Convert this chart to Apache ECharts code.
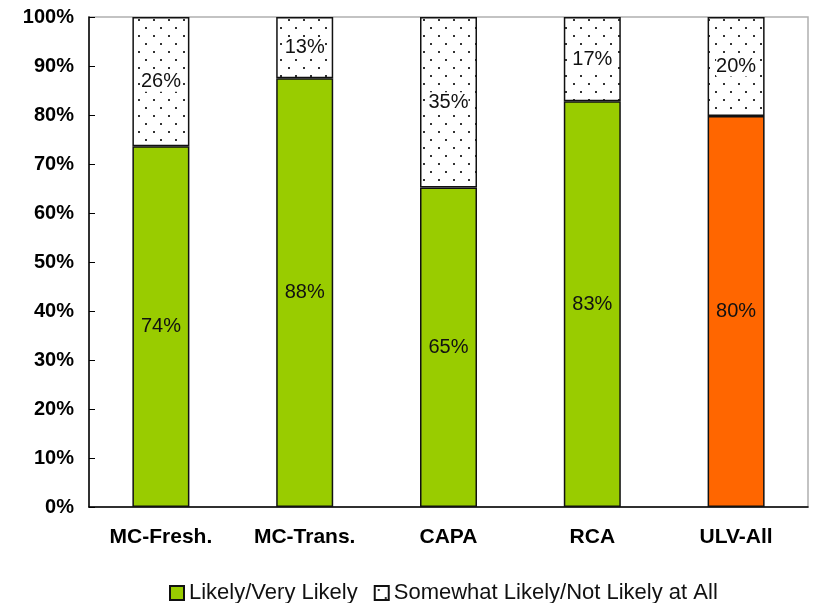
<!DOCTYPE html>
<html>
<head>
<meta charset="utf-8">
<script src="https://cdn.jsdelivr.net/npm/echarts@6/dist/echarts.min.js"></script>
<style>
  html, body { margin: 0; padding: 0; background: #fff; }
  #chart { width: 813px; height: 603px; }
</style>
</head>
<body>
<div id="chart"></div>
<script>
// data
var categories = ['MC-Fresh.', 'MC-Trans.', 'CAPA', 'RCA', 'ULV-All'];
var likely = [73.6, 87.5, 65.2, 82.8, 79.8];
var notLikely = [26.4, 12.5, 34.8, 17.2, 20.2];
var yTicks = [0, 10, 20, 30, 40, 50, 60, 70, 80, 90, 100];

// dotted fill for the top segment
function dotPattern() {
  var c = document.createElement('canvas');
  c.width = 15;
  c.height = 16;
  var ctx = c.getContext('2d');
  ctx.fillStyle = '#fff';
  ctx.fillRect(0, 0, 15, 16);
  ctx.fillStyle = '#333';
  ctx.fillRect(3, 3, 2, 2);
  ctx.fillRect(10, 11, 2, 2);
  return c;
}

var chart = echarts.init(document.getElementById('chart'));

var option = {
  animation: false,
  textStyle: { fontFamily: 'Liberation Sans, Arial, sans-serif' },
  grid: {
    left: 89, right: 5, top: 17, bottom: 96,
    show: true,
    borderColor: '#b0b0b0',
    borderWidth: 1.5
  },
  legend: {
    top: 577,
    left: 164,
    itemWidth: 14,
    itemHeight: 14,
    itemGap: 16,
    icon: 'rect',
    textStyle: { fontSize: 22, color: '#111' },
    data: ['Likely/Very Likely', 'Somewhat Likely/Not Likely at All']
  },
  xAxis: {
    type: 'category',
    data: categories,
    axisLine: { lineStyle: { color: '#000', width: 1.5 } },
    axisTick: { inside: true, length: 6, lineStyle: { color: '#000' } },
    axisLabel: {
      margin: 20,
      fontSize: 21,
      fontWeight: 'bold',
      color: '#000'
    }
  },
  yAxis: {
    type: 'value',
    min: 0,
    max: 100,
    interval: 10,
    splitLine: { show: false },
    axisLine: { show: true, lineStyle: { color: '#000', width: 1.5 } },
    axisTick: { show: true, inside: true, length: 6, lineStyle: { color: '#000' } },
    axisLabel: {
      margin: 15,
      fontSize: 20,
      fontWeight: 'bold',
      color: '#000',
      formatter: function (v) { return yTicks.indexOf(v) >= 0 ? v + '%' : ''; }
    }
  },
  series: [
    {
      name: 'Likely/Very Likely',
      type: 'bar',
      stack: 'all',
      barWidth: 57,
      data: likely.map(function (v, i) {
        return i === 4 ? { value: v, itemStyle: { color: '#ff6600' } } : v;
      }),
      itemStyle: { color: '#99cc00', borderColor: '#111', borderWidth: 1.5 },
      label: {
        show: true,
        position: 'inside',
        fontSize: 20,
        color: '#111',
        formatter: function (p) { return Math.round(p.value) + '%'; }
      }
    },
    {
      name: 'Somewhat Likely/Not Likely at All',
      type: 'bar',
      stack: 'all',
      barWidth: 57,
      data: notLikely,
      itemStyle: {
        color: { image: dotPattern(), repeat: 'repeat' },
        borderColor: '#111',
        borderWidth: 1.5
      },
      label: {
        show: true,
        position: 'inside',
        fontSize: 20,
        color: '#111',
        backgroundColor: '#fff',
        padding: [0, 0],
        formatter: function (p) { return Math.round(p.value) + '%'; }
      }
    }
  ]
};

chart.setOption(option);
</script>
</body>
</html>
